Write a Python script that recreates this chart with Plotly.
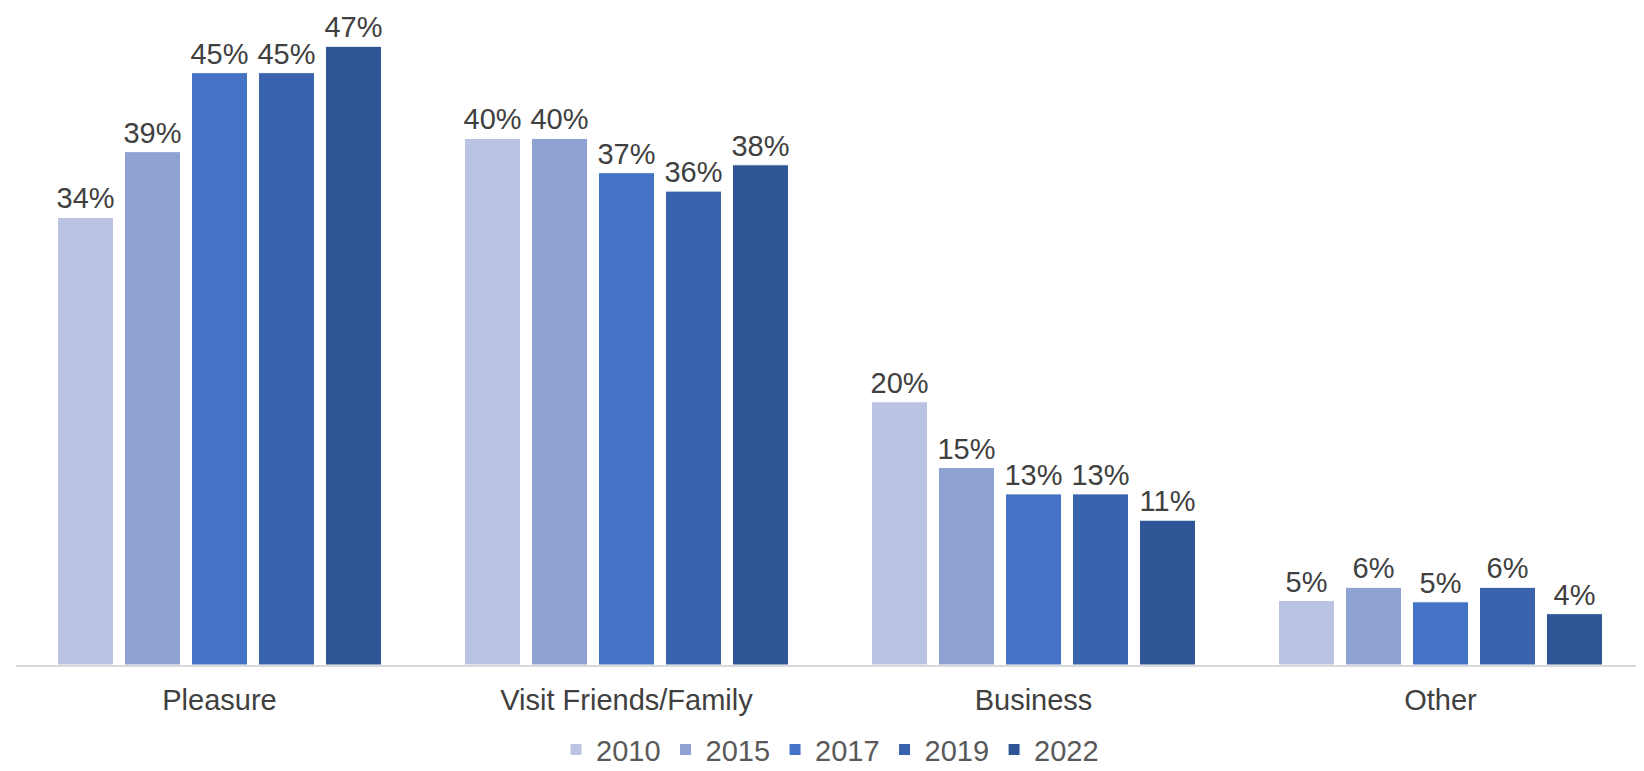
import plotly.graph_objects as go

# purpose of trip, share of visitors by survey year
categories = ['Pleasure', 'Visit Friends/Family', 'Business', 'Other']
years = ['2010', '2015', '2017', '2019', '2022']
v2010 = [34, 40, 20, 4.9]
v2015 = [39, 40, 15, 5.9]
v2017 = [45, 37.4, 13, 4.8]
v2019 = [45, 36, 13, 5.9]
v2022 = [47, 38, 11, 3.9]
labels2010 = ['34%', '40%', '20%', '5%']
labels2015 = ['39%', '40%', '15%', '6%']
labels2017 = ['45%', '37%', '13%', '5%']
labels2019 = ['45%', '36%', '13%', '6%']
labels2022 = ['47%', '38%', '11%', '4%']

colors = ['#BAC3E2', '#8FA3D3', '#4472C4', '#3A63AD', '#2F5597']
values = [v2010, v2015, v2017, v2019, v2022]
texts = [labels2010, labels2015, labels2017, labels2019, labels2022]

fig = go.Figure()
for yr, vals, txt, c in zip(years, values, texts, colors):
    fig.add_trace(go.Bar(x=categories, y=vals, name=yr, marker_color=c,
                         marker_line=dict(color='white', width=1),
                         text=txt, textposition='outside', cliponaxis=False,
                         constraintext='none',
                         textfont=dict(size=29, color='#404040')))

# page body adds an 8px margin, so the figure is sized to fit the window
fig.update_layout(
    width=1636, height=763,
    margin=dict(l=8, r=0, t=12, b=106),
    paper_bgcolor='white', plot_bgcolor='white',
    font=dict(family='Liberation Sans, Arial', size=29, color='#404040'),
    barmode='group', bargap=0.177, bargroupgap=0.164,
    xaxis=dict(showline=True, linecolor='#D9D9D9', linewidth=2, ticks='',
               ticklabelstandoff=8, tickfont=dict(size=29, color='#404040')),
    yaxis=dict(range=[0, 49.0], visible=False, showgrid=False),
    legend=dict(orientation='h', x=0.5, xanchor='center', yref='container',
                y=0.028, yanchor='middle', font=dict(size=29, color='#595959'),
                itemwidth=30, traceorder='normal'),
)
fig.write_html('out.html')
